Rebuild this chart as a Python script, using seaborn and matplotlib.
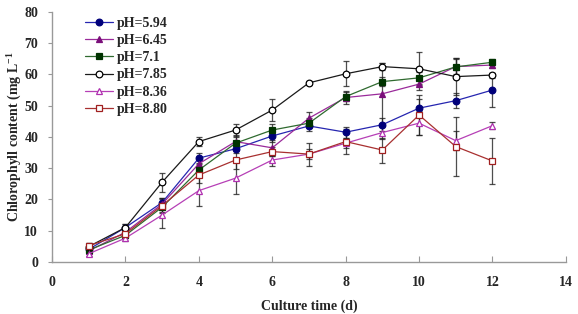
import numpy as np
import pandas as pd
import seaborn as sns
import matplotlib.pyplot as plt

# culture days
days = [1, 2, 3, 4, 5, 6, 7, 8, 9, 10, 11, 12]

ph_labels = ["pH=5.94", "pH=6.45", "pH=7.1", "pH=7.85", "pH=8.36", "pH=8.80"]

# chlorophyll content (mg/L)
ph594 = [4.0, 11.0, 19.0, 33.2, 36.2, 40.3, 43.5, 41.5, 43.9, 49.2, 51.6, 55.0]
ph645 = [3.5, 9.5, 18.5, 31.4, 38.5, 36.5, 46.0, 52.6, 53.8, 56.9, 62.5, 63.0]
ph71 = [3.8, 8.5, 17.5, 29.4, 38.0, 42.2, 44.4, 52.9, 57.7, 58.9, 62.4, 63.9]
ph785 = [4.9, 11.0, 25.5, 38.5, 42.2, 48.6, 57.3, 60.2, 62.5, 61.8, 59.3, 59.8]
ph836 = [2.6, 7.6, 15.0, 22.8, 26.8, 32.6, 34.5, 38.0, 41.4, 44.4, 38.8, 43.6]
ph880 = [5.2, 9.0, 18.0, 27.8, 32.6, 35.3, 34.5, 38.5, 35.8, 47.0, 36.9, 32.3]

# standard deviations (error bars)
sd594 = [0.8, 1.0, 1.5, 1.5, 1.5, 2.0, 1.5, 1.8, 2.0, 2.8, 2.5, 5.3]
sd645 = [0.8, 1.0, 1.5, 2.0, 2.0, 2.5, 2.0, 2.0, 10.0, 2.0, 2.5, 1.0]
sd71 = [0.8, 1.0, 1.5, 2.0, 2.0, 2.0, 1.5, 1.5, 1.5, 2.0, 3.0, 1.0]
sd785 = [1.0, 1.0, 3.0, 1.5, 2.0, 3.5, 0.6, 4.0, 1.2, 5.3, 6.0, 0.8]
sd836 = [0.8, 1.0, 4.0, 5.0, 5.2, 2.0, 1.5, 1.5, 2.0, 3.8, 3.0, 1.2]
sd880 = [1.0, 1.0, 2.5, 2.5, 3.0, 1.5, 3.7, 4.0, 4.0, 6.5, 9.5, 7.5]

values = [ph594, ph645, ph71, ph785, ph836, ph880]
errors = [sd594, sd645, sd71, sd785, sd836, sd880]

line_colors = ["#2626b0", "#9a2a9a", "#2f6a2f", "#1a1a1a", "#b63fb6", "#a83030"]
marker_colors = ["#00007a", "#7a0f7a", "#003300", "#000000", "#b030b0", "#a02020"]
marker_fill = ["#00007a", "#7a0f7a", "#003300", "white", "white", "white"]
markers = ["o", "^", "s", "o", "^", "s"]

sns.set_style("ticks")
plt.rcParams["font.family"] = ["Liberation Serif", "DejaVu Serif"]
plt.rcParams["font.weight"] = "bold"

fig = plt.figure(figsize=(5.78, 3.14), dpi=100)
ax = fig.add_axes([0.09, 0.166, 0.889, 0.796])

# error bars first, underneath the lines
for vals, sd in zip(values, errors):
    ax.errorbar(days, vals, yerr=sd, fmt="none",
                ecolor="#222222", elinewidth=0.9, capsize=2.5, capthick=0.9,
                alpha=0.8, zorder=1)

for lab, vals, lc, mc, mf, mk in zip(ph_labels, values, line_colors,
                                     marker_colors, marker_fill, markers):
    sns.lineplot(x=days, y=vals, color=lc, marker=mk, label=lab,
                 linewidth=0.9, markersize=4.8, ax=ax, zorder=3)
    line = ax.lines[-1]
    line.set_markerfacecolor(mf)
    line.set_markeredgecolor(mc)
    line.set_markeredgewidth(0.9)

handles, labels = ax.get_legend_handles_labels()
for h, mfc, mec in zip(handles, marker_fill, marker_colors):
    h.set_markerfacecolor(mfc)
    h.set_markeredgecolor(mec)
    h.set_markeredgewidth(0.9)
ax.legend(handles, labels, loc="upper left", bbox_to_anchor=(0.04, 1.03),
          frameon=False, handlelength=2.0, handletextpad=0.3,
          labelspacing=0.3, prop={"weight": "bold", "size": 10})

ax.set_xlim(0, 14)
ax.set_ylim(0, 80)
ax.set_xticks(range(0, 15, 2))
ax.set_yticks(range(0, 81, 10))
ax.set_xlabel("Culture time (d)", fontsize=10, fontweight="bold", labelpad=8)
ax.set_ylabel("Chlorophyll content (mg L$^{\\mathregular{-1}}$", fontsize=10,
              fontweight="bold", labelpad=1)

for side in ["left", "bottom"]:
    ax.spines[side].set_color("#999999")
    ax.spines[side].set_linewidth(1.0)
sns.despine(ax=ax)
ax.tick_params(axis="x", direction="in", length=4, color="#999999",
               labelsize=10, pad=10)
ax.tick_params(axis="y", direction="out", length=3, color="#999999",
               labelsize=10, pad=7)
for t in ax.get_xticklabels() + ax.get_yticklabels():
    t.set_fontweight("bold")

fig.savefig("out.png", dpi=100)
